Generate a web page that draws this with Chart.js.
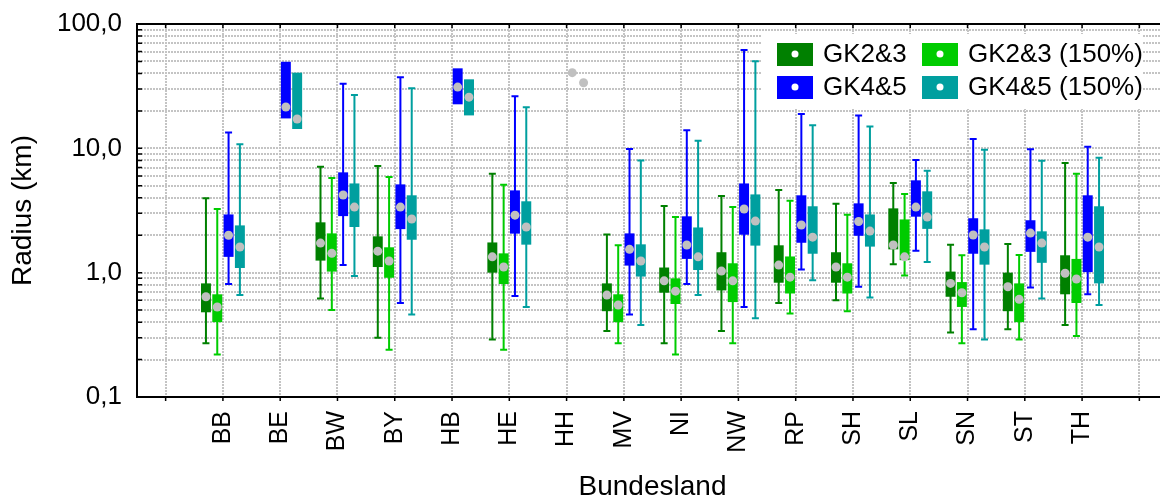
<!DOCTYPE html>
<html>
<head>
<meta charset="utf-8">
<script src="https://cdn.jsdelivr.net/npm/chart.js@4.4.0/dist/chart.umd.min.js"></script>
<style>
    html, body { margin: 0; padding: 0; overflow: hidden; background: #fff; }
    #wrap { width: 1170px; height: 498px; }
</style>
</head>
<body>
<div id="wrap"><canvas id="boxChart"></canvas></div>
<script>
// Bundesländer (blank slots at both ends, as in the original plot)
const categories = ['', 'BB', 'BE', 'BW', 'BY', 'HB', 'HE', 'HH', 'MV', 'NI', 'NW', 'RP', 'SH', 'SL', 'SN', 'ST', 'TH', ''];

// each row: [min, q1, median, q3, max] in km
const gk23 = [
    null,
    [0.27, 0.48, 0.64, 0.82, 3.97],
    null,
    [0.62, 1.25, 1.73, 2.54, 7.11],
    [0.30, 1.11, 1.49, 1.96, 7.20],
    null,
    [0.29, 1.00, 1.34, 1.75, 6.25],
    null,
    [0.34, 0.49, 0.66, 0.82, 2.03],
    [0.27, 0.69, 0.86, 1.10, 3.43],
    [0.34, 0.72, 1.03, 1.46, 4.13],
    [0.57, 0.83, 1.15, 1.66, 4.62],
    [0.60, 0.83, 1.11, 1.46, 3.58],
    [1.17, 1.54, 1.67, 3.29, 5.26],
    [0.33, 0.64, 0.82, 1.02, 1.68],
    [0.35, 0.49, 0.77, 1.00, 1.70],
    [0.38, 0.67, 0.99, 1.38, 7.62],
    null
];

const gk23x150 = [
    null,
    [0.22, 0.40, 0.53, 0.67, 3.25],
    null,
    [0.50, 1.02, 1.43, 2.07, 5.77],
    [0.24, 0.91, 1.24, 1.60, 5.88],
    null,
    [0.24, 0.81, 1.11, 1.43, 5.09],
    null,
    [0.27, 0.40, 0.55, 0.67, 1.66],
    [0.22, 0.56, 0.71, 0.90, 2.80],
    [0.27, 0.58, 0.86, 1.19, 3.37],
    [0.47, 0.68, 0.92, 1.35, 3.79],
    [0.49, 0.68, 0.92, 1.19, 2.92],
    [0.95, 1.26, 1.34, 2.68, 4.29],
    [0.27, 0.53, 0.69, 0.84, 1.38],
    [0.29, 0.40, 0.61, 0.82, 1.39],
    [0.31, 0.57, 0.89, 1.29, 6.25],
    null
];

const gk45 = [
    null,
    [0.81, 1.34, 2.00, 2.94, 13.4],
    [null, 17.4, 21.5, 49.7, null],
    [1.15, 2.85, 4.21, 6.41, 33.1],
    [0.57, 2.24, 3.37, 5.13, 37.3],
    [null, 22.6, 31.1, 44.0, null],
    [0.65, 2.06, 2.90, 4.59, 26.2],
    [null, null, 40.6, null, null],
    [0.46, 1.14, 1.54, 2.07, 9.89],
    [0.81, 1.29, 1.67, 2.84, 14.0],
    [0.53, 2.02, 3.25, 5.22, 61.8],
    [1.06, 1.74, 2.42, 4.19, 18.9],
    [0.77, 1.98, 2.58, 3.61, 18.4],
    [1.50, 2.82, 3.37, 5.53, 8.05],
    [0.35, 1.42, 2.01, 2.74, 11.9],
    [0.76, 1.47, 2.08, 2.64, 9.84],
    [0.67, 1.01, 1.93, 4.19, 10.3],
    null
];

const gk45x150 = [
    null,
    [0.66, 1.09, 1.61, 2.40, 10.8],
    [null, 14.3, 17.2, 40.6, null],
    [0.94, 2.33, 3.37, 5.22, 26.8],
    [0.46, 1.84, 2.70, 4.19, 30.4],
    [null, 18.4, 25.8, 35.9, null],
    [0.53, 1.68, 2.33, 3.75, 21.4],
    [null, null, 33.7, null, null],
    [0.38, 0.93, 1.24, 1.69, 8.00],
    [0.66, 1.05, 1.34, 2.31, 11.5],
    [0.43, 1.65, 2.60, 4.26, 50.1],
    [0.87, 1.42, 1.93, 3.42, 15.3],
    [0.63, 1.62, 2.16, 2.94, 15.0],
    [1.22, 2.25, 2.80, 4.51, 6.60],
    [0.29, 1.16, 1.61, 2.23, 9.75],
    [0.62, 1.20, 1.73, 2.15, 7.94],
    [0.55, 0.82, 1.61, 3.42, 8.40],
    null
];

// y axis ticks: labelled decades plus the minor lines in between
const yLabelTicks = [0.1, 1, 10, 100];
const yMinorSteps = [2, 3, 4, 5, 6, 7, 8, 9];

const seriesNames = ['GK2&3', 'GK2&3 (150%)', 'GK4&5', 'GK4&5 (150%)'];
const seriesColors = ['#008000', '#00cc00', '#0000ff', '#009f9f'];
const seriesStats = [gk23, gk23x150, gk45, gk45x150];

const FONT = "'Liberation Sans', Arial, sans-serif";
const MEDIAN_COLOR = '#c0c0c0';

// box = floating bar from q1 to q3
function toBoxes(rows) {
    return rows.map(r => r ? [r[1] ?? r[2], r[3] ?? r[2]] : null);
}

// whiskers behind the boxes, median dots on top
const boxPlotExtras = {
    id: 'boxPlotExtras',
    beforeDatasetsDraw(chart) {
        const ctx = chart.ctx;
        const y = chart.scales.y;
        chart.data.datasets.forEach((ds, di) => {
            const meta = chart.getDatasetMeta(di);
            ds.stats.forEach((row, i) => {
                if (!row || row[0] == null || row[4] == null) return;
                const x = meta.data[i].x;
                const yTop = y.getPixelForValue(row[4]);
                const yBot = y.getPixelForValue(row[0]);
                ctx.save();
                ctx.strokeStyle = ds.backgroundColor;
                ctx.lineWidth = 2;
                ctx.beginPath();
                ctx.moveTo(x, yTop);
                ctx.lineTo(x, yBot);
                ctx.moveTo(x - 3.5, yTop);
                ctx.lineTo(x + 3.5, yTop);
                ctx.moveTo(x - 3.5, yBot);
                ctx.lineTo(x + 3.5, yBot);
                ctx.stroke();
                ctx.restore();
            });
        });
    },
    afterDatasetsDraw(chart) {
        const ctx = chart.ctx;
        const y = chart.scales.y;
        chart.data.datasets.forEach((ds, di) => {
            const meta = chart.getDatasetMeta(di);
            ds.stats.forEach((row, i) => {
                if (!row || row[2] == null) return;
                ctx.save();
                ctx.fillStyle = MEDIAN_COLOR;
                ctx.beginPath();
                ctx.arc(meta.data[i].x, y.getPixelForValue(row[2]), 4.5, 0, Math.PI * 2);
                ctx.fill();
                ctx.restore();
            });
        });
    }
};

// top border line + small black tick marks like the original
const frame = {
    id: 'frame',
    afterDraw(chart) {
        const {ctx, chartArea: a, scales} = chart;
        ctx.save();
        ctx.strokeStyle = '#000';
        ctx.lineWidth = 2;
        ctx.beginPath();
        ctx.moveTo(a.left - 1, a.top);
        ctx.lineTo(a.right, a.top);
        ctx.stroke();
        ctx.lineWidth = 1.5;
        ctx.beginPath();
        scales.x.ticks.forEach((t, i) => {
            const px = scales.x.getPixelForTick(i);
            ctx.moveTo(px, a.bottom);
            ctx.lineTo(px, a.bottom + 4);
            ctx.moveTo(px, a.top);
            ctx.lineTo(px, a.top + 4);
        });
        scales.y.ticks.forEach((t, i) => {
            const py = scales.y.getPixelForTick(i);
            ctx.moveTo(a.left, py);
            ctx.lineTo(a.left + 5, py);
        });
        ctx.stroke();
        ctx.restore();
    }
};

// legend in two columns inside the plot, top right
const boxLegend = {
    id: 'boxLegend',
    afterDraw(chart) {
        const {ctx, chartArea: a} = chart;
        const r = a.right, t = a.top;
        ctx.save();
        ctx.fillStyle = '#fff';
        ctx.fillRect(r - 406, t + 10, 381, 75);
        const cols = [r - 391, r - 246];
        const rows = [t + 19, t + 52];
        ctx.font = '26px ' + FONT;
        ctx.textBaseline = 'middle';
        chart.data.datasets.forEach((ds, i) => {
            const x = cols[i % 2];
            const yy = rows[Math.floor(i / 2)];
            ctx.fillStyle = ds.backgroundColor;
            ctx.fillRect(x, yy, 36, 23);
            ctx.fillStyle = '#fff';
            ctx.beginPath();
            ctx.arc(x + 18, yy + 11, 3.5, 0, Math.PI * 2);
            ctx.fill();
            ctx.fillStyle = '#000';
            ctx.fillText(ds.label, x + 46, yy + 12);
        });
        ctx.restore();
    }
};

const ctx = document.getElementById('boxChart').getContext('2d');

new Chart(ctx, {
    type: 'bar',
    data: {
        labels: categories,
        datasets: seriesNames.map((name, i) => ({
            label: name,
            data: toBoxes(seriesStats[i]),
            stats: seriesStats[i],
            backgroundColor: seriesColors[i],
            borderWidth: 0,
            borderSkipped: false,
            categoryPercentage: 0.79,
            barPercentage: 0.88
        }))
    },
    options: {
        responsive: true,
        maintainAspectRatio: false,
        animation: false,
        layout: {
            padding: { top: 24, right: 2, left: 0, bottom: 0 }
        },
        plugins: {
            legend: { display: false },
            tooltip: { enabled: false }
        },
        scales: {
            x: {
                type: 'category',
                offset: true,
                afterFit: scale => {
                    scale.height = 101;
                    scale.paddingLeft = 0;
                    scale.paddingRight = 0;
                },
                grid: {
                    offset: false,
                    color: '#c4c4c4',
                    lineWidth: 2,
                    drawTicks: false
                },
                border: { color: '#000', width: 2, dash: [2, 1] },
                ticks: {
                    autoSkip: false,
                    minRotation: 90,
                    maxRotation: 90,
                    padding: 14,
                    color: '#000',
                    font: { family: FONT, size: 25 }
                },
                title: {
                    display: true,
                    text: 'Bundesland',
                    color: '#000',
                    padding: { top: 0, bottom: 0 },
                    font: { family: FONT, size: 28, lineHeight: 0.75 }
                }
            },
            y: {
                type: 'logarithmic',
                min: 0.1,
                max: 100,
                afterFit: scale => {
                    scale.width = 137;
                    scale.paddingTop = 0;
                    scale.paddingBottom = 0;
                },
                afterBuildTicks: scale => {
                    const ticks = [];
                    yLabelTicks.forEach(v => {
                        ticks.push({ value: v });
                        if (v < 100) yMinorSteps.forEach(m => ticks.push({ value: +(v * m).toPrecision(3) }));
                    });
                    scale.ticks = ticks;
                },
                grid: {
                    color: '#c4c4c4',
                    lineWidth: 2,
                    drawTicks: false
                },
                border: { color: '#000', width: 2, dash: [2, 1] },
                ticks: {
                    autoSkip: false,
                    padding: 15,
                    color: '#000',
                    font: { family: FONT, size: 26 },
                    callback: value => yLabelTicks.includes(value) ? value.toFixed(1).replace('.', ',') : ''
                },
                title: {
                    display: true,
                    text: 'Radius (km)',
                    color: '#000',
                    padding: { top: 6, bottom: 0 },
                    font: { family: FONT, size: 28 }
                }
            }
        }
    },
    plugins: [boxPlotExtras, frame, boxLegend]
});
</script>
</body>
</html>
